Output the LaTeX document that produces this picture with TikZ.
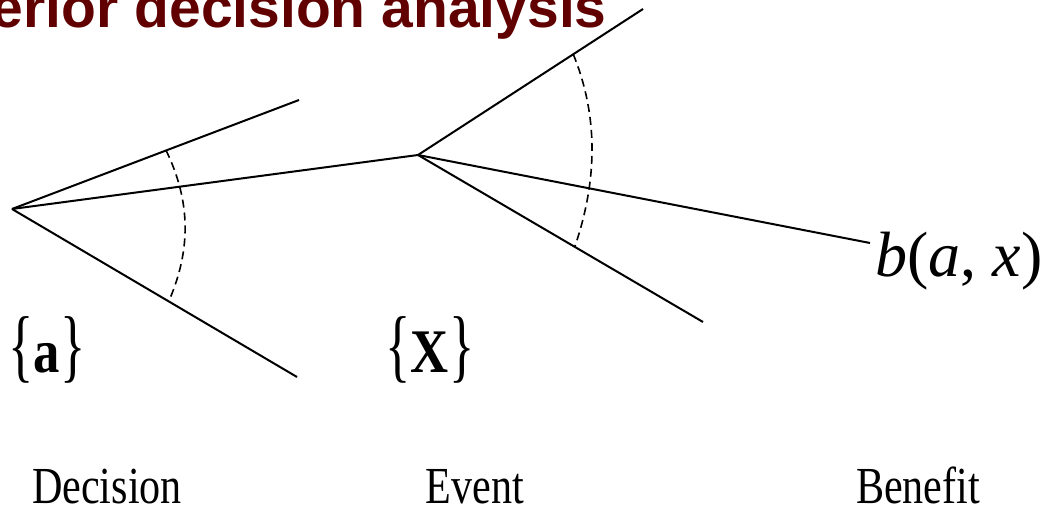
\documentclass[tikz,border=0pt]{standalone}
\usepackage{fontspec}
\setmainfont{Liberation Serif}
\newfontfamily\headfont{Liberation Sans}
\usepackage{graphicx}
\usetikzlibrary{calc}
\definecolor{headred}{RGB}{96,0,0}
\newcommand{\openset}{\scalebox{1}[1.3]{\{}}
\newcommand{\closeset}{\scalebox{1}[1.3]{\}}}

\begin{document}
\begin{tikzpicture}[x=0.5pt,y=-0.5pt,
  branch/.style={line width=1pt},
  sweep/.style={line width=0.8pt,dash pattern=on 4pt off 2.5pt},
  setlbl/.style={font=\fontsize{31}{36}\selectfont,inner sep=0pt},
  axislbl/.style={font=\fontsize{26}{30}\selectfont,inner sep=0pt,anchor=base}
]
  \useasboundingbox (0,0) rectangle (1047,512);

  % Title, cut off by the page
  \node[anchor=base east,inner sep=0pt,text=headred,font=\headfont\bfseries\fontsize{28.5}{30}\selectfont] (title) at (607,28) {Posterior decision analysis};

  % Decision point and its alternatives
  \coordinate (dec) at (12,209);
  \coordinate (a1) at (299,100);
  \coordinate (a3) at (297,377);

  % Event point and its outcomes
  \coordinate (evt) at (418,155);
  \coordinate (x1) at (643,9);
  \coordinate (x2) at (870,243);
  \coordinate (x3) at (703,322);

  \draw[branch] (dec) -- (a1);
  \draw[branch] (dec) -- (evt);
  \draw[branch] (dec) -- (a3);
  \draw[branch] (evt) -- (x1);
  \draw[branch] (evt) -- (x2);
  \draw[branch] (evt) -- (x3);

  % Spread of the sets
  \draw[sweep] ($(dec)!0.537!(a1)$) .. controls (191,202) and (191,250) .. ($(dec)!0.55!(a3)$);
  \draw[sweep] ($(evt)!0.69!(x1)$) .. controls (598,115) and (598,179) .. ($(evt)!0.55!(x3)$);

  % Labels
  \node[setlbl] (aset) at (47,350) {\scalebox{0.85}[1]{\openset\textbf{a}\closeset}};
  \node[setlbl] (xset) at (430,350) {\scalebox{0.85}[1]{\openset\textbf{X}\closeset}};
  \node[anchor=west,inner sep=0pt,font=\fontsize{32}{38}\selectfont] (ben) at (875,261) {\textit{b}(\textit{a}, \textit{x})};

  \node[axislbl] (declbl) at (107,503) {\scalebox{0.81}[1]{Decision}};
  \node[axislbl] (evtlbl) at (475,503) {\scalebox{0.81}[1]{Event}};
  \node[axislbl] (benlbl) at (918,503) {\scalebox{0.81}[1]{Benefit}};
\end{tikzpicture}
\end{document}
